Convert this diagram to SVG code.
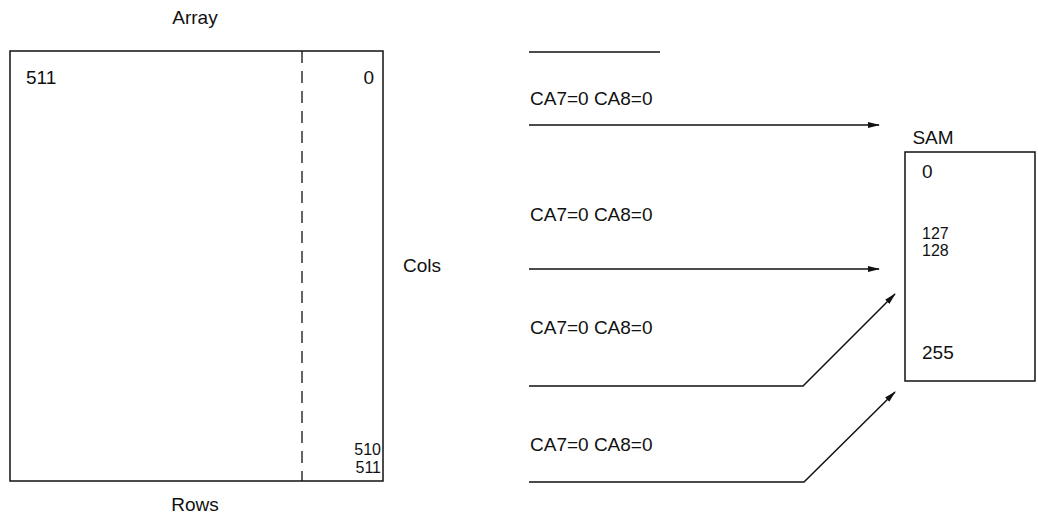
<svg xmlns="http://www.w3.org/2000/svg" width="1038" height="513" viewBox="0 0 1038 513">
<style>
text{font-family:"Liberation Sans",Arial,sans-serif;font-size:19px;fill:#111}
text.sm{font-size:16px}
.box{fill:none;stroke:#111;stroke-width:1.5}
.ln{fill:none;stroke:#111;stroke-width:1.5}
.dash{stroke:#111;stroke-width:1.3;stroke-dasharray:12 8}
</style>
<defs>
<marker id="ah" markerWidth="12" markerHeight="8" refX="11" refY="4" orient="auto" markerUnits="userSpaceOnUse">
<path d="M0,1 L12,4 L0,7 Z" fill="#111"/>
</marker>
</defs>
<rect width="1038" height="513" fill="#fff"/>
<g id="array">
<text x="195" y="24" text-anchor="middle">Array</text>
<rect class="box" x="10" y="51" width="373" height="430"/>
<line class="dash" x1="302" y1="51" x2="302" y2="481"/>
<text x="26" y="84">511</text>
<text x="374" y="84" text-anchor="end">0</text>
<text class="sm" x="381" y="455" text-anchor="end">510</text>
<text class="sm" x="381" y="473" text-anchor="end">511</text>
<text x="195" y="511" text-anchor="middle">Rows</text>
</g>
<g id="cols">
<text x="403" y="272">Cols</text>
</g>
<g id="labels">
<text x="530" y="105">CA7=0 CA8=0</text>
<text x="530" y="221">CA7=0 CA8=0</text>
<text x="530" y="334">CA7=0 CA8=0</text>
<text x="530" y="451">CA7=0 CA8=0</text>
</g>
<g id="sam">
<text x="933" y="144" text-anchor="middle">SAM</text>
<rect class="box" x="905" y="152" width="130" height="229"/>
<text x="922" y="178">0</text>
<text class="sm" x="922" y="239">127</text>
<text class="sm" x="922" y="256">128</text>
<text x="922" y="359">255</text>
</g>
<g id="connectors">
<line class="ln" x1="529" y1="52" x2="660" y2="52"/>
<line class="ln" x1="529" y1="125" x2="879" y2="125" marker-end="url(#ah)"/>
<line class="ln" x1="529" y1="269" x2="879" y2="269" marker-end="url(#ah)"/>
<polyline class="ln" points="529,386 803,386 895,294" marker-end="url(#ah)"/>
<polyline class="ln" points="529,482 804,482 895,392" marker-end="url(#ah)"/>
</g>
</svg>
